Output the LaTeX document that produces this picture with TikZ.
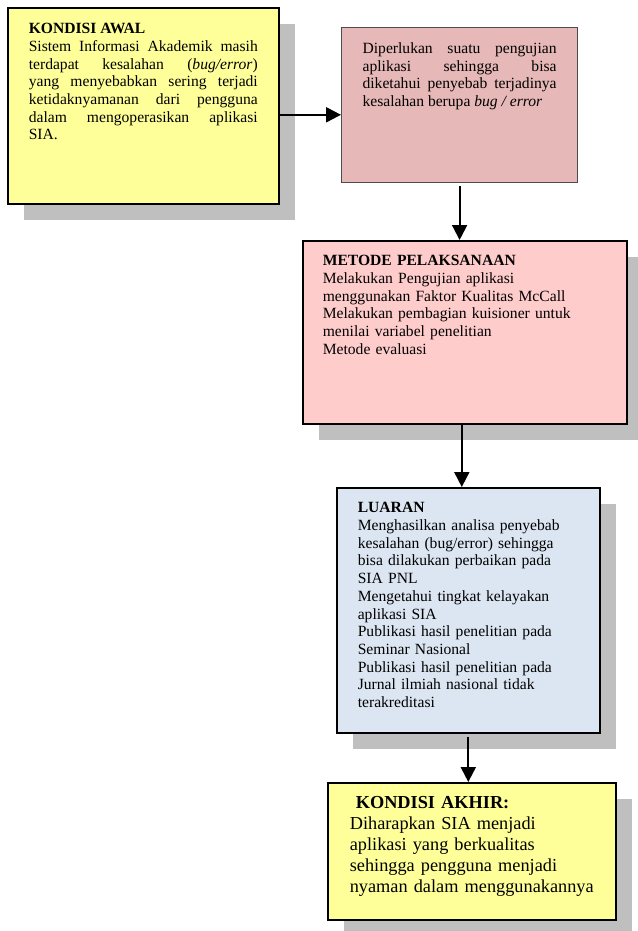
\documentclass[tikz,border=0pt]{standalone}
\usepackage{fontspec}
\setmainfont{Liberation Serif}
\usetikzlibrary{shapes,arrows.meta,shadows}

\definecolor{kuning}{HTML}{FFFF99}
\definecolor{merahtua}{HTML}{E6B8B7}
\definecolor{merahmuda}{HTML}{FFCCCC}
\definecolor{birumuda}{HTML}{DCE6F2}

\begin{document}
\begin{tikzpicture}[x=1pt, y=-1pt]
	\tikzstyle{block} = [rectangle, draw, line width=1.6pt, anchor=north west,
	inner ysep=0pt, inner xsep=21pt, font=\fontsize{15.6}{17.7}\selectfont]
	\tikzstyle{shade} = [drop shadow={shadow xshift=16pt, shadow yshift=-16pt,
	fill=black!25, opacity=1}]
	\tikzstyle{line} = [draw, -{Triangle[width=15pt, length=15pt]}, line width=2pt]
	\useasboundingbox (0,0) rectangle (637,931);
	% Place nodes
	\node [block, shade, fill=kuning, text width=229pt, align=justify,
	text height=26pt, text depth=170pt] (awal) at (7,7)
	{\textbf{KONDISI AWAL}\\
	Sistem Informasi Akademik masih\linebreak
	terdapat kesalahan (\textit{bug/error})\linebreak
	yang menyebabkan sering terjadi\linebreak
	ketidaknyamanan dari pengguna\linebreak
	dalam mengoperasikan aplikasi\linebreak
	SIA.};
	\node [block, draw=black!70, line width=1.2pt, fill=merahtua, text width=194pt,
	align=justify, text height=26pt, text depth=129pt] (masalah) at (341,27)
	{Diperlukan suatu pengujian\linebreak
	aplikasi sehingga bisa\linebreak
	diketahui penyebab terjadinya\linebreak
	kesalahan berupa \textit{bug / error}};
	\node [block, shade, fill=merahmuda, inner xsep=20pt, text width=284pt,
	align=left, text height=25pt, text depth=158pt] (metode) at (302,240)
	{\textbf{METODE PELAKSANAAN}\\
	Melakukan Pengujian aplikasi\\
	menggunakan Faktor Kualitas McCall\\
	Melakukan pembagian kuisioner untuk\\
	menilai variabel penelitian\\
	Metode evaluasi};
	\node [block, shade, fill=birumuda, text width=221pt, align=left,
	text height=25pt, text depth=220pt] (luaran) at (336,487)
	{\textbf{LUARAN}\\
	Menghasilkan analisa penyebab\\
	kesalahan (bug/error) sehingga\\
	bisa dilakukan perbaikan pada\\
	SIA PNL\\
	Mengetahui tingkat kelayakan\\
	aplikasi SIA\\
	Publikasi hasil penelitian pada\\
	Seminar Nasional\\
	Publikasi hasil penelitian pada\\
	Jurnal ilmiah nasional tidak\\
	terakreditasi};
	\node [block, shade, fill=kuning, inner xsep=22pt, text width=244pt, align=left,
	font=\fontsize{18.3}{21}\selectfont, text height=26pt, text depth=111pt]
	(akhir) at (327,782)
	{\hspace{6pt}\textbf{KONDISI AKHIR:}\\
	Diharapkan SIA menjadi\\
	aplikasi yang berkualitas\\
	sehingga pengguna menjadi\\
	nyaman dalam menggunakannya};
	% Draw edges
	\path [line] ([yshift=-9pt]awal.east) -- ([yshift=-9pt]awal.east -| masalah.west);
	\path [line, shorten <=3pt] (masalah.south) -- (masalah.south |- metode.north);
	\path [line] ([xshift=-3pt]metode.south) -- ([xshift=-3pt]metode.south |- luaran.north);
	\path [line, shorten <=3pt] (luaran.south) -- (luaran.south |- akhir.north);
\end{tikzpicture}
\end{document}
